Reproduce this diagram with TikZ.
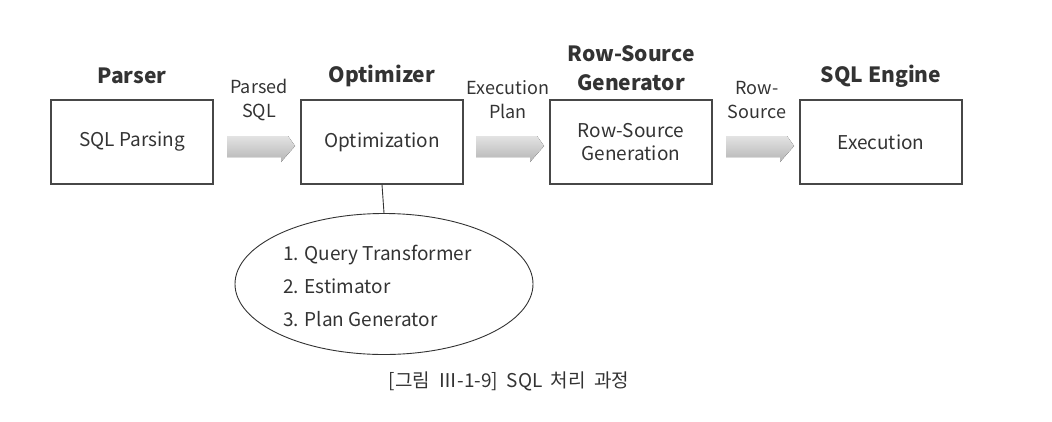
\documentclass[tikz,border=0pt]{standalone}
\usepackage{fontspec}
\setmainfont{Noto Sans CJK KR}
\usetikzlibrary{shapes.geometric}
\definecolor{ink}{HTML}{333333}
\tikzset{
  stage/.style={draw=ink!90, line width=1.3pt, minimum width=162pt, minimum height=84pt, inner sep=0pt, align=center, font=\fontsize{19}{23}\selectfont, text=ink},
  title/.style={font=\bfseries\fontsize{21}{29}\selectfont, text=ink, inner sep=0pt},
  lbl/.style={font=\fontsize{18}{24}\selectfont, text=ink, align=center, inner sep=0pt},
  flow/.style={top color=gray!22, bottom color=gray!58, draw=none},
}
\begin{document}
\begin{tikzpicture}[x=1pt,y=-1pt]
\useasboundingbox (0,0) rectangle (1052,421);
% boxes
\node[stage] (b1) at (132,142) {SQL Parsing};
\node[stage] (b2) at (382,142) {Optimization};
\node[stage] (b3) at (631,142) {Row-Source\\Generation};
\node[stage] (b4) at (881,142) {Execution};
% titles
\node[title] (t1) at (132,76) {Parser};
\node[title] (t2) at (382,76) {Optimizer};
\node[title, align=center] (t3) at (631,68) {Row-Source\\Generator};
\node[title] (t4) at (881,76) {SQL Engine};
% flow arrows
\foreach \x [count=\i] in {227,476,726} {
  \fill[flow] (\x,136) -- (\x+61,136) -- (\x+68,146) -- (\x+54,162) -- (\x+54,157) -- (\x,157) -- cycle;
}
\node[lbl] (l1) at (259,100) {Parsed\\SQL};
\node[lbl] (l2) at (508,100) {Execution\\Plan};
\node[lbl] (l3) at (757,100) {Row-\\Source};
% ellipse
\node[ellipse, draw=ink, line width=0.9pt, minimum width=298pt, minimum height=141pt, inner sep=0pt] (e) at (384,284) {};
\draw[ink, line width=0.9pt] (b2.south) -- (e.north);
\node[lbl, anchor=west, align=left, font=\fontsize{19}{33}\selectfont] (items) at (283,286) {1. Query Transformer\\2. Estimator\\3. Plan Generator};
% caption
\node[font=\fontsize{19}{22}\selectfont, text=ink, inner sep=0pt] (cap) at (509,381) {[그림\ \ Ⅲ-1-9]\ \ SQL\ \ 처리\ \ 과정};
\end{tikzpicture}
\end{document}
